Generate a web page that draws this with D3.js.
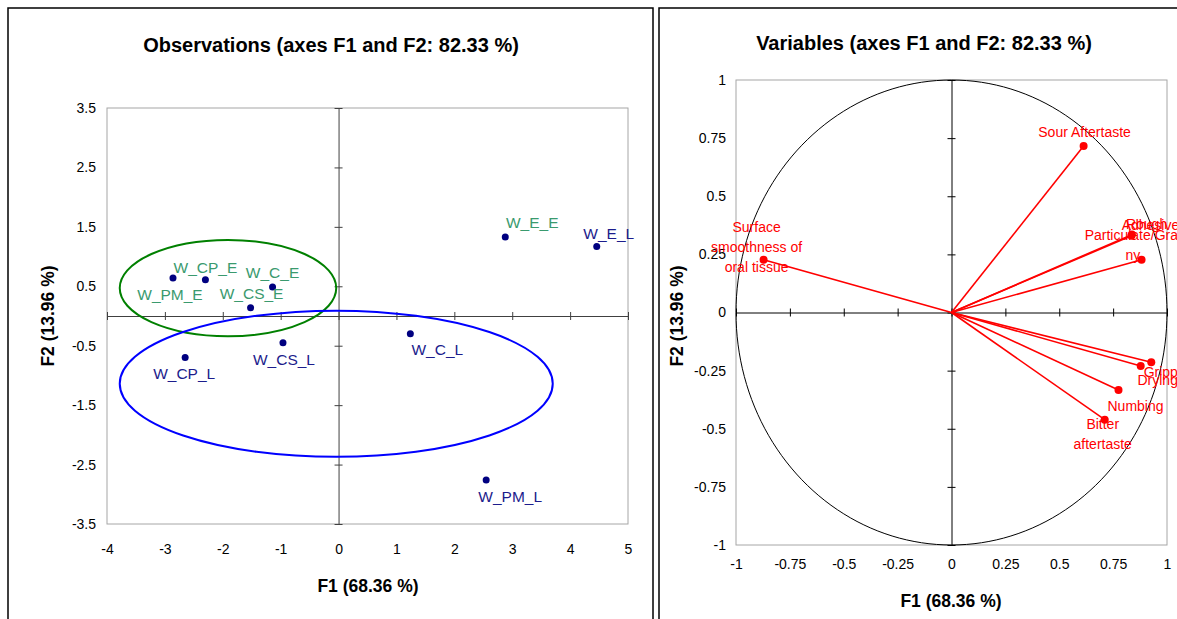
<!DOCTYPE html>
<html>
<head>
<meta charset="utf-8">
<script src="https://cdn.jsdelivr.net/npm/d3@7"></script>
<style>
body { margin: 0; background: #fff; }
text { font-family: "Liberation Sans", Arial, sans-serif; }
</style>
</head>
<body>
<svg width="1177" height="619"></svg>
<script>
// observations (F1, F2 scores)
var obsNames = ["W_E_E", "W_E_L", "W_CP_E", "W_PM_E", "W_C_E", "W_CS_E", "W_CS_L", "W_CP_L", "W_C_L", "W_PM_L"],
    obsF1 = [2.88, 4.46, -2.30, -2.86, -1.14, -1.52, -0.96, -2.65, 1.24, 2.55],
    obsF2 = [1.33, 1.17, 0.61, 0.64, 0.49, 0.14, -0.45, -0.70, -0.30, -2.76],
    obsGroup = ["E", "L", "E", "E", "E", "E", "L", "L", "L", "L"];

// confidence ellipses (data units)
var ellGroup = ["E", "L"],
    ellCx = [-1.91, -0.04],
    ellCy = [0.47, -1.14],
    ellRx = [1.87, 3.74],
    ellRy = [0.81, 1.23];

var obsXTicks = [-4, -3, -2, -1, 0, 1, 2, 3, 4, 5],
    obsYTicks = [3.5, 2.5, 1.5, 0.5, -0.5, -1.5, -2.5, -3.5];

// variables (correlations with F1, F2)
var varNames = ["Sour Aftertaste", "Surface smoothness of oral tissue", "Adhesive", "Rough", "Particulate/Grainy",
                "Grippy", "Drying", "Numbing", "Bitter aftertaste"],
    varF1 = [0.613, -0.872, 0.835, 0.882, 0.837, 0.927, 0.878, 0.775, 0.711],
    varF2 = [0.716, 0.227, 0.330, 0.227, 0.335, -0.214, -0.230, -0.333, -0.461];

var varTicks = [-1, -0.75, -0.5, -0.25, 0, 0.25, 0.5, 0.75, 1];

// label placement (pixel nudges, like the original layout)
var obsNudge = {
  "W_E_E": [27, -9], "W_E_L": [12, -7], "W_CP_E": [0, -7], "W_PM_E": [-3, 22], "W_C_E": [0, -9],
  "W_CS_E": [1, -9], "W_CS_L": [1, 22], "W_CP_L": [-1, 21], "W_C_L": [27, 21], "W_PM_L": [24, 22]
};
var varLabel = {
  "Sour Aftertaste": {lines: ["Sour Aftertaste"], d: [1, -9]},
  "Surface smoothness of oral tissue": {lines: ["Surface", "smoothness of", "oral tissue"], d: [-7, -28]},
  "Adhesive": {lines: ["Adhesive"], d: [19, -6]},
  "Rough": {lines: ["Rough"], d: [5, -31]},
  "Particulate/Grainy": {lines: ["Particulate/Grai", "ny"], d: [1, 5]},
  "Grippy": {lines: ["Grippy"], d: [13, 15]},
  "Drying": {lines: ["Drying"], d: [17, 19]},
  "Numbing": {lines: ["Numbing"], d: [17, 21]},
  "Bitter aftertaste": {lines: ["Bitter", "aftertaste"], d: [-2, 9]}
};

var svg = d3.select("svg");
var fmt = function(d) { return String(d); };

// panel frames
svg.append("rect").attr("x", 8).attr("y", 8).attr("width", 645).attr("height", 640)
  .attr("fill", "none").attr("stroke", "#000").attr("stroke-width", 1.5);
svg.append("rect").attr("x", 659).attr("y", 8).attr("width", 540).attr("height", 640)
  .attr("fill", "none").attr("stroke", "#000").attr("stroke-width", 1.5);

// ---------- left: observations ----------
var x1 = d3.scaleLinear().domain([-4, 5]).range([107, 628]),
    y1 = d3.scaleLinear().domain([-3.5, 3.5]).range([524, 108]);

var g1 = svg.append("g");

g1.append("rect").attr("x", x1(-4)).attr("y", y1(3.5))
  .attr("width", x1(5) - x1(-4)).attr("height", y1(-3.5) - y1(3.5))
  .attr("fill", "none").attr("stroke", "#a6a6a6");

// center axes with crossing ticks
var hx = g1.append("g").attr("transform", "translate(0," + y1(0) + ")")
  .call(d3.axisBottom(x1).tickValues(obsXTicks).tickSize(4).tickSizeOuter(0).tickFormat(""));
var vy = g1.append("g").attr("transform", "translate(" + x1(0) + ",0)")
  .call(d3.axisLeft(y1).tickValues(obsYTicks).tickSize(4).tickSizeOuter(0).tickFormat(""));
[hx, vy].forEach(function(a) {
  a.select(".domain").attr("stroke", "#404040");
  a.selectAll(".tick line").attr("stroke", "#404040");
});
hx.selectAll(".tick line").attr("y1", -4);
vy.selectAll(".tick line").attr("x1", 4);

// tick labels
var bx = g1.append("g").attr("transform", "translate(0," + y1(-3.5) + ")")
  .call(d3.axisBottom(x1).tickValues(obsXTicks).tickSize(0).tickPadding(20).tickFormat(fmt));
var ly = g1.append("g").attr("transform", "translate(" + x1(-4) + ",0)")
  .call(d3.axisLeft(y1).tickValues(obsYTicks).tickSize(0).tickPadding(11).tickFormat(fmt));
[bx, ly].forEach(function(a) {
  a.select(".domain").remove();
  a.selectAll("text").attr("font-size", 14).attr("fill", "#000")
    .style("font-family", "'Liberation Sans', Arial, sans-serif");
});

// ellipses
var ellColor = {E: "#008000", L: "#0000ff"};
g1.selectAll(".ell").data(ellGroup).enter().append("ellipse")
  .attr("cx", function(d, i) { return x1(ellCx[i]); })
  .attr("cy", function(d, i) { return y1(ellCy[i]); })
  .attr("rx", function(d, i) { return x1(ellRx[i]) - x1(0); })
  .attr("ry", function(d, i) { return y1(0) - y1(ellRy[i]); })
  .attr("fill", "none").attr("stroke", function(d) { return ellColor[d]; }).attr("stroke-width", 2);

// points
g1.selectAll(".pt").data(obsNames).enter().append("circle")
  .attr("cx", function(d, i) { return x1(obsF1[i]); })
  .attr("cy", function(d, i) { return y1(obsF2[i]); })
  .attr("r", 3.5).attr("fill", "#000080");

var labColor = {E: "#3a9a6e", L: "#1c1c8c"};
g1.selectAll(".lab").data(obsNames).enter().append("text")
  .attr("x", function(d, i) { return x1(obsF1[i]) + obsNudge[d][0]; })
  .attr("y", function(d, i) { return y1(obsF2[i]) + obsNudge[d][1]; })
  .attr("text-anchor", "middle").attr("font-size", 15.5)
  .attr("fill", function(d, i) { return labColor[obsGroup[i]]; })
  .text(function(d) { return d; });

// titles
g1.append("text").attr("x", 331).attr("y", 52).attr("text-anchor", "middle")
  .attr("font-size", 20).attr("font-weight", "bold").text("Observations (axes F1 and F2: 82.33 %)");
g1.append("text").attr("x", 368).attr("y", 592).attr("text-anchor", "middle")
  .attr("font-size", 17.5).attr("font-weight", "bold").text("F1 (68.36 %)");
g1.append("text").attr("transform", "translate(54,316) rotate(-90)").attr("text-anchor", "middle")
  .attr("font-size", 17.5).attr("font-weight", "bold").text("F2 (13.96 %)");

// ---------- right: variables ----------
var x2 = d3.scaleLinear().domain([-1, 1]).range([736, 1167]),
    y2 = d3.scaleLinear().domain([-1, 1]).range([545, 80]);

var g2 = svg.append("g");

g2.append("rect").attr("x", x2(-1)).attr("y", y2(1))
  .attr("width", x2(1) - x2(-1)).attr("height", y2(-1) - y2(1))
  .attr("fill", "none").attr("stroke", "#a6a6a6");

var hx2 = g2.append("g").attr("transform", "translate(0," + y2(0) + ")")
  .call(d3.axisBottom(x2).tickValues(varTicks).tickSize(4).tickSizeOuter(0).tickFormat(""));
var vy2 = g2.append("g").attr("transform", "translate(" + x2(0) + ",0)")
  .call(d3.axisLeft(y2).tickValues(varTicks).tickSize(4).tickSizeOuter(0).tickFormat(""));
[hx2, vy2].forEach(function(a) {
  a.select(".domain").attr("stroke", "#000");
  a.selectAll(".tick line").attr("stroke", "#000");
});
hx2.selectAll(".tick line").attr("y1", -4);
vy2.selectAll(".tick line").attr("x1", 4);

var bx2 = g2.append("g").attr("transform", "translate(0," + y2(-1) + ")")
  .call(d3.axisBottom(x2).tickValues(varTicks).tickSize(0).tickPadding(14).tickFormat(fmt));
var ly2 = g2.append("g").attr("transform", "translate(" + x2(-1) + ",0)")
  .call(d3.axisLeft(y2).tickValues(varTicks).tickSize(0).tickPadding(10).tickFormat(fmt));
[bx2, ly2].forEach(function(a) {
  a.select(".domain").remove();
  a.selectAll("text").attr("font-size", 14).attr("fill", "#000")
    .style("font-family", "'Liberation Sans', Arial, sans-serif");
});

// correlation circle
var circ = d3.line()
  .x(function(a) { return x2(Math.cos(a)); })
  .y(function(a) { return y2(Math.sin(a)); });
g2.append("path").attr("d", circ(d3.range(0, 2 * Math.PI + 0.01, Math.PI / 90)))
  .attr("fill", "none").attr("stroke", "#000").attr("stroke-width", 1);

// vectors
g2.selectAll(".vec").data(varNames).enter().append("line")
  .attr("x1", x2(0)).attr("y1", y2(0))
  .attr("x2", function(d, i) { return x2(varF1[i]); })
  .attr("y2", function(d, i) { return y2(varF2[i]); })
  .attr("stroke", "#ff0000").attr("stroke-width", 1.6);
g2.selectAll(".vpt").data(varNames).enter().append("circle")
  .attr("cx", function(d, i) { return x2(varF1[i]); })
  .attr("cy", function(d, i) { return y2(varF2[i]); })
  .attr("r", 4).attr("fill", "#ff0000");

var vl = g2.selectAll(".vlab").data(varNames).enter().append("text")
  .attr("text-anchor", "middle").attr("font-size", 14).attr("fill", "#ff0000")
  .attr("x", function(d, i) { return x2(varF1[i]) + varLabel[d].d[0]; })
  .attr("y", function(d, i) { return y2(varF2[i]) + varLabel[d].d[1]; });
vl.each(function(d, i) {
  var t = d3.select(this), x0 = x2(varF1[i]) + varLabel[d].d[0];
  varLabel[d].lines.forEach(function(s, k) {
    t.append("tspan").attr("x", x0).attr("dy", k === 0 ? 0 : 20).text(s);
  });
});

g2.append("text").attr("x", 924).attr("y", 50).attr("text-anchor", "middle")
  .attr("font-size", 20).attr("font-weight", "bold").text("Variables (axes F1 and F2: 82.33 %)");
g2.append("text").attr("x", 951).attr("y", 607).attr("text-anchor", "middle")
  .attr("font-size", 17.5).attr("font-weight", "bold").text("F1 (68.36 %)");
g2.append("text").attr("transform", "translate(683,316) rotate(-90)").attr("text-anchor", "middle")
  .attr("font-size", 17.5).attr("font-weight", "bold").text("F2 (13.96 %)");
</script>
</body>
</html>
